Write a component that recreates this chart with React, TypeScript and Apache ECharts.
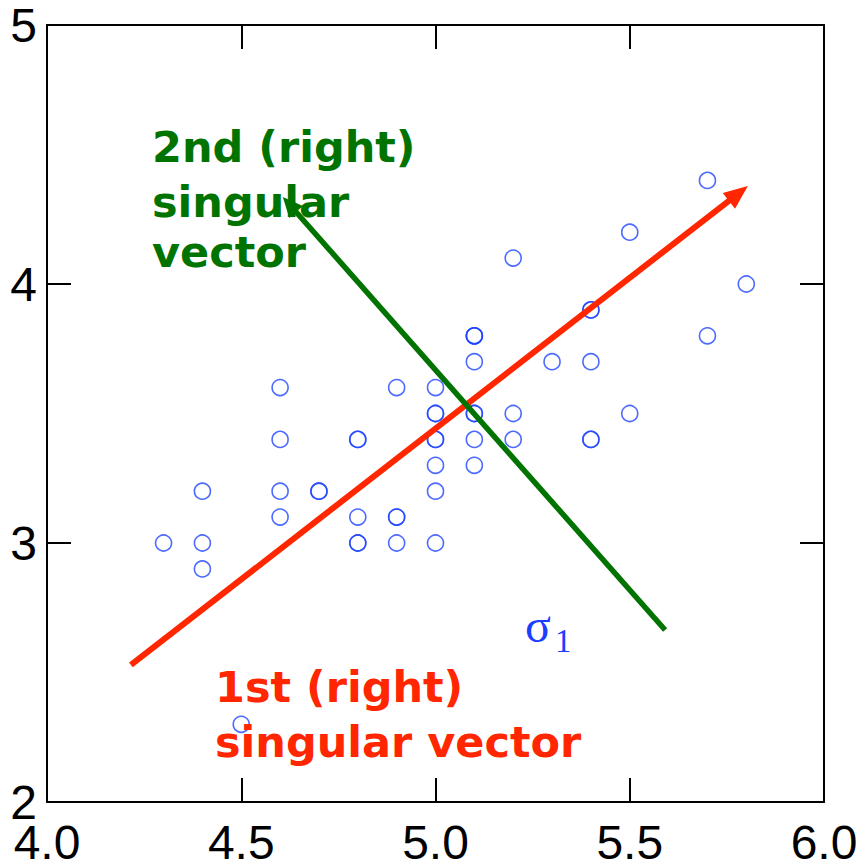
import React, { useEffect, useRef } from "react";
import * as echarts from "echarts";

const xValues = [5.1,4.9,4.7,4.6,5.0,5.4,4.6,5.0,4.4,4.9,5.4,4.8,4.8,4.3,5.8,5.7,5.4,5.1,5.7,5.1,5.4,5.1,4.6,5.1,4.8,5.0,5.0,5.2,5.2,4.7,4.8,5.4,5.2,5.5,4.9,5.0,5.5,4.9,4.4,5.1,5.0,4.5,4.4,5.0,5.1,4.8,5.1,4.6,5.3,5.0];
const yValues = [3.5,3.0,3.2,3.1,3.6,3.9,3.4,3.4,2.9,3.1,3.7,3.4,3.0,3.0,4.0,4.4,3.9,3.5,3.8,3.8,3.4,3.7,3.6,3.3,3.4,3.0,3.4,3.5,3.4,3.2,3.1,3.4,4.1,4.2,3.1,3.2,3.5,3.6,3.0,3.4,3.5,2.3,3.2,3.5,3.8,3.0,3.8,3.2,3.7,3.3];

// arrows: [x start, y start, x tip, y tip]
const firstVector = [4.216, 2.529, 5.804, 4.378];
const secondVector = [5.591, 2.664, 4.607, 4.336];

const xTicks = { min: 4.0, max: 6.0, interval: 0.5 };
const yTicks = { min: 2, max: 5, interval: 1 };

const RED = "#ff2600";
const GREEN = "#007300";
const BLUE = "#1f45ff";

function arrowSeries(vec: number[], color: string, width: number, headLen: number, headHalf: number) {
  return {
    type: "custom",
    data: [vec],
    encode: { x: [0, 2], y: [1, 3] },
    silent: true,
    z: 5,
    renderItem: (params: any, api: any) => {
      const p1 = api.coord([api.value(0), api.value(1)]);
      const p2 = api.coord([api.value(2), api.value(3)]);
      const dx = p2[0] - p1[0];
      const dy = p2[1] - p1[1];
      const len = Math.sqrt(dx * dx + dy * dy);
      const ux = dx / len;
      const uy = dy / len;
      const bx = p2[0] - ux * headLen;
      const by = p2[1] - uy * headLen;
      const nx = -uy;
      const ny = ux;
      return {
        type: "group",
        children: [
          {
            type: "line",
            shape: { x1: p1[0], y1: p1[1], x2: bx + ux * 2, y2: by + uy * 2 },
            style: { stroke: color, lineWidth: width },
          },
          {
            type: "polygon",
            shape: {
              points: [
                [p2[0], p2[1]],
                [bx + nx * headHalf, by + ny * headHalf],
                [bx - nx * headHalf, by - ny * headHalf],
              ],
            },
            style: { fill: color },
          },
        ],
      };
    },
  };
}

export default function App() {
  const ref = useRef<HTMLDivElement>(null);
  useEffect(() => {
    if (!ref.current) return;
    const chart = echarts.init(ref.current, null, { renderer: "svg" });
    const points = xValues.map((x, i) => [x, yValues[i]]);
    const labelFont = { fontSize: 48, fontFamily: "Liberation Sans, Arial, sans-serif", color: "#000" };
    const axisLine = { show: true, onZero: false, lineStyle: { color: "#000", width: 2 } };
    const tick = { show: true, inside: true, length: 24, lineStyle: { color: "#000", width: 2 } };
    const boldFont = 'bold 43px "DejaVu Sans", sans-serif';
    const textEl = (text: string, x: number, baseline: number, color: string) => ({
      type: "text",
      x,
      y: baseline - 15,
      style: { text, font: boldFont, fill: color, align: "left", verticalAlign: "middle" },
      z: 10,
    });
    chart.setOption({
      animation: false,
      backgroundColor: "#fff",
      grid: { left: 47, top: 25, width: 777, height: 777, containLabel: false },
      xAxis: [
        {
          type: "value",
          min: xTicks.min,
          max: xTicks.max,
          interval: xTicks.interval,
          position: "bottom",
          axisLine,
          axisTick: tick,
          splitLine: { show: false },
          axisLabel: { ...labelFont, margin: 16, formatter: (v: number) => v.toFixed(1) },
        },
        {
          type: "value",
          min: xTicks.min,
          max: xTicks.max,
          interval: xTicks.interval,
          position: "top",
          axisLine,
          axisTick: tick,
          splitLine: { show: false },
          axisLabel: { show: false },
        },
      ],
      yAxis: [
        {
          type: "value",
          min: yTicks.min,
          max: yTicks.max,
          interval: yTicks.interval,
          position: "left",
          axisLine,
          axisTick: tick,
          splitLine: { show: false },
          axisLabel: { ...labelFont, margin: 10 },
        },
        {
          type: "value",
          min: yTicks.min,
          max: yTicks.max,
          interval: yTicks.interval,
          position: "right",
          axisLine,
          axisTick: tick,
          splitLine: { show: false },
          axisLabel: { show: false },
        },
      ],
      series: [
        {
          type: "scatter",
          data: points,
          symbol: "circle",
          symbolSize: 16,
          itemStyle: { color: "rgba(0,0,0,0)", borderColor: BLUE, borderWidth: 1.6 },
          z: 3,
        },
        arrowSeries(firstVector, RED, 6, 24, 10),
        arrowSeries(secondVector, GREEN, 5.5, 20, 9),
      ],
      graphic: [
        textEl("2nd (right)", 152, 162, GREEN),
        textEl("singular", 152, 217, GREEN),
        textEl("vector", 152, 267, GREEN),
        textEl("1st (right)", 215, 702, RED),
        textEl("singular vector", 215, 757, RED),
        {
          type: "text",
          x: 525,
          y: 637 - 12,
          style: { text: "σ", font: '48px "Liberation Serif", serif', fill: "#1a3fff", align: "left", verticalAlign: "middle" },
          z: 10,
        },
        {
          type: "text",
          x: 555,
          y: 652 - 11,
          style: { text: "1", font: '33px "Liberation Serif", serif', fill: "#1a3fff", align: "left", verticalAlign: "middle" },
          z: 10,
        },
      ],
    });
    return () => chart.dispose();
  }, []);
  return <div ref={ref} style={{ position: "fixed", left: 0, top: 0, width: 865, height: 868 }} />;
}
